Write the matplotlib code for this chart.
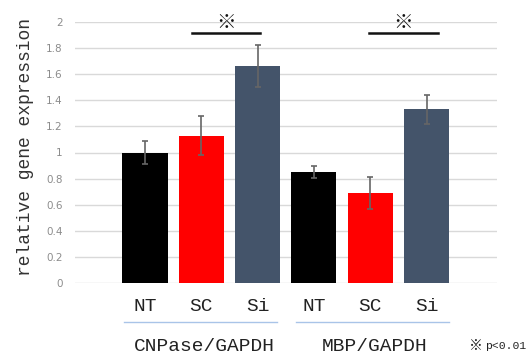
import matplotlib
matplotlib.use("Agg")
import matplotlib.pyplot as plt
import numpy as np

categories = ["NT", "SC", "Si", "NT", "SC", "Si"]
groups = ["CNPase/GAPDH", "MBP/GAPDH"]
values = [1.00, 1.13, 1.66, 0.85, 0.69, 1.33]
errors = [0.09, 0.15, 0.16, 0.046, 0.12, 0.11]
colors = ["#000000", "#FF0000", "#44546A", "#000000", "#FF0000", "#44546A"]
yticks = [0, 0.2, 0.4, 0.6, 0.8, 1, 1.2, 1.4, 1.6, 1.8, 2]
ytick_labels = ["0", "0.2", "0.4", "0.6", "0.8", "1", "1.2", "1.4", "1.6", "1.8", "2"]

W, H = 529, 356
fig = plt.figure(figsize=(W / 100, H / 100), dpi=100)
ax = fig.add_axes([75 / W, 1 - 283 / H, (497 - 75) / W, (283 - 22) / H])

x = np.arange(len(values))
ax.bar(x, values, width=0.8, color=colors, zorder=2)
ax.errorbar(x, values, yerr=errors, fmt="none", ecolor="#666666",
            elinewidth=1.2, capsize=2.5, capthick=1.2, zorder=3)

ax.set_xlim(-1.243, 6.252)
ax.set_ylim(0, 2)
ax.set_yticks(yticks)
ax.set_yticklabels(ytick_labels, color="#8C8C8C", fontsize=7.5,
                   family=["DejaVu Sans"])
ax.tick_params(axis="y", length=0, pad=9)
ax.set_xticks([])
ax.yaxis.grid(True, color="#D9D9D9", linewidth=1.0, zorder=0)
ax.set_axisbelow(True)
for s in ax.spines.values():
    s.set_visible(False)

mono = ["Liberation Mono", "Noto Sans CJK JP"]

# y label
fig.text(26 / W, 1 - 147 / H, "relative gene expression", rotation=90,
         ha="center", va="center", fontsize=13, family=mono, color="#333333")

# category labels
for xi, c in zip(x, categories):
    ax.text(xi, -0.18, c, ha="center", va="center", fontsize=14,
            family=mono, color="#222222", clip_on=False)

# group separators
for x0, x1 in [(-0.373, 2.34), (2.68, 5.4)]:
    ax.plot([x0, x1], [-0.297, -0.297], color="#A9C4E8", linewidth=1.0,
            clip_on=False)

# group labels
for xc, g in zip([1.05, 4.07], groups):
    ax.text(xc, -0.487, g, ha="center", va="center", fontsize=14,
            family=mono, color="#222222", clip_on=False)
fig.text(469 / W, 1 - 346 / H, "※", ha="left", va="center",
         fontsize=10, family=["Noto Sans CJK JP"], color="#222222")
fig.text(485 / W, 1 - 346 / H, "p<0.01", ha="left", va="center",
         fontsize=8.2, family=mono, color="#222222")

# significance markers
for x0, x1 in [(0.83, 2.04), (3.98, 5.2)]:
    ax.plot([x0, x1], [1.912, 1.912], color="#111111", linewidth=1.8,
            clip_on=False)
    ax.text((x0 + x1) / 2, 2.0, "※", ha="center", va="center",
            fontsize=14, family=["Noto Sans CJK JP"], color="#111111",
            clip_on=False)

fig.savefig("out.png", dpi=100)
